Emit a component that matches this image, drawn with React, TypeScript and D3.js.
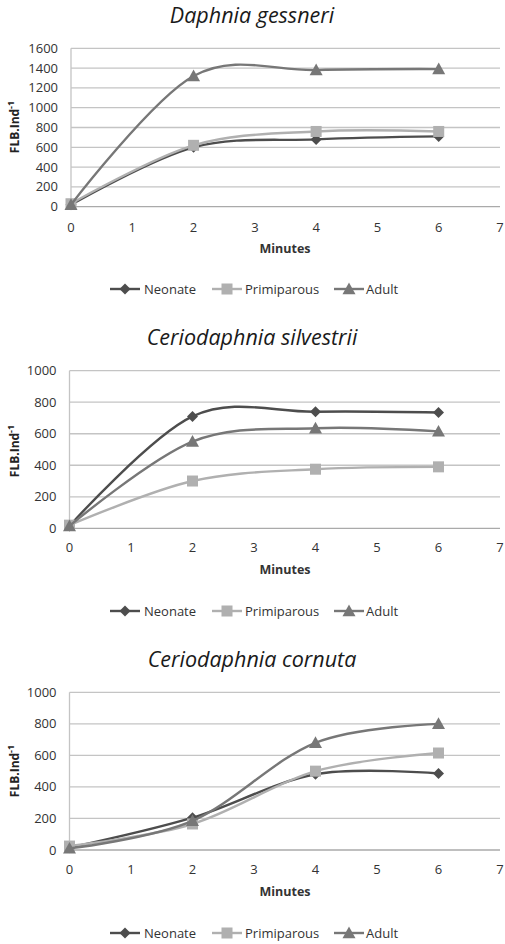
import React from "react";
import * as d3 from "d3";

const minutes = [0, 2, 4, 6];
const xTicks = [0, 1, 2, 3, 4, 5, 6, 7];
const seriesNames = ["Neonate", "Primiparous", "Adult"];

const titles = ["Daphnia gessneri", "Ceriodaphnia silvestrii", "Ceriodaphnia cornuta"];

const gessneriNeonate = [20, 600, 680, 710];
const gessneriPrimiparous = [30, 620, 760, 760];
const gessneriAdult = [20, 1320, 1380, 1390];
const gessneriTicks = [0, 200, 400, 600, 800, 1000, 1200, 1400, 1600];

const silvestriiNeonate = [15, 710, 740, 735];
const silvestriiPrimiparous = [20, 300, 375, 390];
const silvestriiAdult = [15, 550, 635, 615];
const silvestriiTicks = [0, 200, 400, 600, 800, 1000];

const cornutaNeonate = [15, 205, 480, 485];
const cornutaPrimiparous = [25, 165, 500, 615];
const cornutaAdult = [10, 185, 680, 800];
const cornutaTicks = [0, 200, 400, 600, 800, 1000];

const panels = [
  { title: titles[0], series: [gessneriNeonate, gessneriPrimiparous, gessneriAdult], ticks: gessneriTicks },
  { title: titles[1], series: [silvestriiNeonate, silvestriiPrimiparous, silvestriiAdult], ticks: silvestriiTicks },
  { title: titles[2], series: [cornutaNeonate, cornutaPrimiparous, cornutaAdult], ticks: cornutaTicks },
];

const layouts = [
  { titleY: 23, top: 48.3, bottom: 206.7, x0: 71, xTickY: 232, minY: 253, legY: 289, labelY: 127 },
  { titleY: 345, top: 370.7, bottom: 528.3, x0: 69.5, xTickY: 552, minY: 574, legY: 611, labelY: 451 },
  { titleY: 667, top: 692.3, bottom: 850, x0: 69.5, xTickY: 874, minY: 896, legY: 933, labelY: 771 },
];

const colors = ["#4d4d4d", "#b0b0b0", "#777777"];
const FONT = "'Open Sans', 'DejaVu Sans', sans-serif";

function Marker({ kind, x, y, color }: { kind: number; x: number; y: number; color: string }) {
  if (kind === 0) {
    const s = 5.5;
    return <path d={`M${x},${y - s}L${x + s},${y}L${x},${y + s}L${x - s},${y}Z`} fill={color} />;
  }
  if (kind === 1) {
    const s = 5.5;
    return <rect x={x - s} y={y - s} width={2 * s} height={2 * s} fill={color} />;
  }
  const s = 6.5;
  return <path d={`M${x},${y - s}L${x + s},${y + s * 0.8}L${x - s},${y + s * 0.8}Z`} fill={color} />;
}

function Panel({ p, l }: { p: typeof panels[0]; l: typeof layouts[0] }) {
  const x = d3.scaleLinear().domain([0, 7]).range([l.x0, 500]);
  const yMax = p.ticks[p.ticks.length - 1];
  const y = d3.scaleLinear().domain([0, yMax]).range([l.bottom, l.top]);
  const line = d3
    .line<number>()
    .x((_, i) => x(minutes[i]))
    .y((v) => y(v))
    .curve(d3.curveCatmullRom.alpha(0));
  const legendItems = [
    { lx: 110, tx: 144 },
    { lx: 212, tx: 245 },
    { lx: 334, tx: 366 },
  ];
  return (
    <g>
      <text x={252} y={l.titleY} textAnchor="middle" fontSize={21.5} fontStyle="italic" fill="#1a1a1a" fontFamily={FONT}>
        {p.title}
      </text>
      {p.ticks.map((t) => (
        <g key={t}>
          <line x1={l.x0} x2={500} y1={y(t)} y2={y(t)} stroke={t === 0 ? "#aaaaaa" : "#c4c4c4"} strokeWidth={1.3} />
          <text x={l.x0 - 13} y={y(t)} dy="0.35em" textAnchor="end" fontSize={13} fill="#333" fontFamily={FONT}>
            {t}
          </text>
        </g>
      ))}
      <line x1={l.x0} x2={l.x0} y1={l.top} y2={l.bottom} stroke="#c4c4c4" strokeWidth={1.3} />
      {xTicks.map((t) => (
        <text key={t} x={x(t)} y={l.xTickY} textAnchor="middle" fontSize={13} fill="#333" fontFamily={FONT}>
          {t}
        </text>
      ))}
      <text x={285} y={l.minY} textAnchor="middle" fontSize={12.5} fontWeight="bold" fill="#333" fontFamily={FONT}>
        Minutes
      </text>
      <text
        transform={`translate(19,${l.labelY}) rotate(-90)`}
        textAnchor="middle"
        fontSize={12}
        fontWeight="bold"
        fill="#222"
        fontFamily={FONT}
      >
        FLB.Ind
        <tspan dy={-5} fontSize={9}>-1</tspan>
      </text>
      {p.series.map((s, i) => (
        <g key={i}>
          <path d={line(s) || ""} fill="none" stroke={colors[i]} strokeWidth={2.4} />
          {s.map((v, j) => (
            <Marker key={j} kind={i} x={x(minutes[j])} y={y(v)} color={colors[i]} />
          ))}
        </g>
      ))}
      {legendItems.map((it, i) => (
        <g key={i}>
          <line x1={it.lx} x2={it.lx + 30} y1={l.legY} y2={l.legY} stroke={colors[i]} strokeWidth={2.4} />
          <Marker kind={i} x={it.lx + 15} y={l.legY} color={colors[i]} />
          <text x={it.tx} y={l.legY} dy="0.35em" fontSize={13} fill="#333" fontFamily={FONT}>
            {seriesNames[i]}
          </text>
        </g>
      ))}
    </g>
  );
}

export default function App() {
  return (
    <svg width={505} height={944} style={{ position: "absolute", left: 0, top: 0, background: "#fff" }}>
      <rect width={505} height={944} fill="#fff" />
      {panels.map((p, i) => (
        <Panel key={i} p={p} l={layouts[i]} />
      ))}
    </svg>
  );
}
